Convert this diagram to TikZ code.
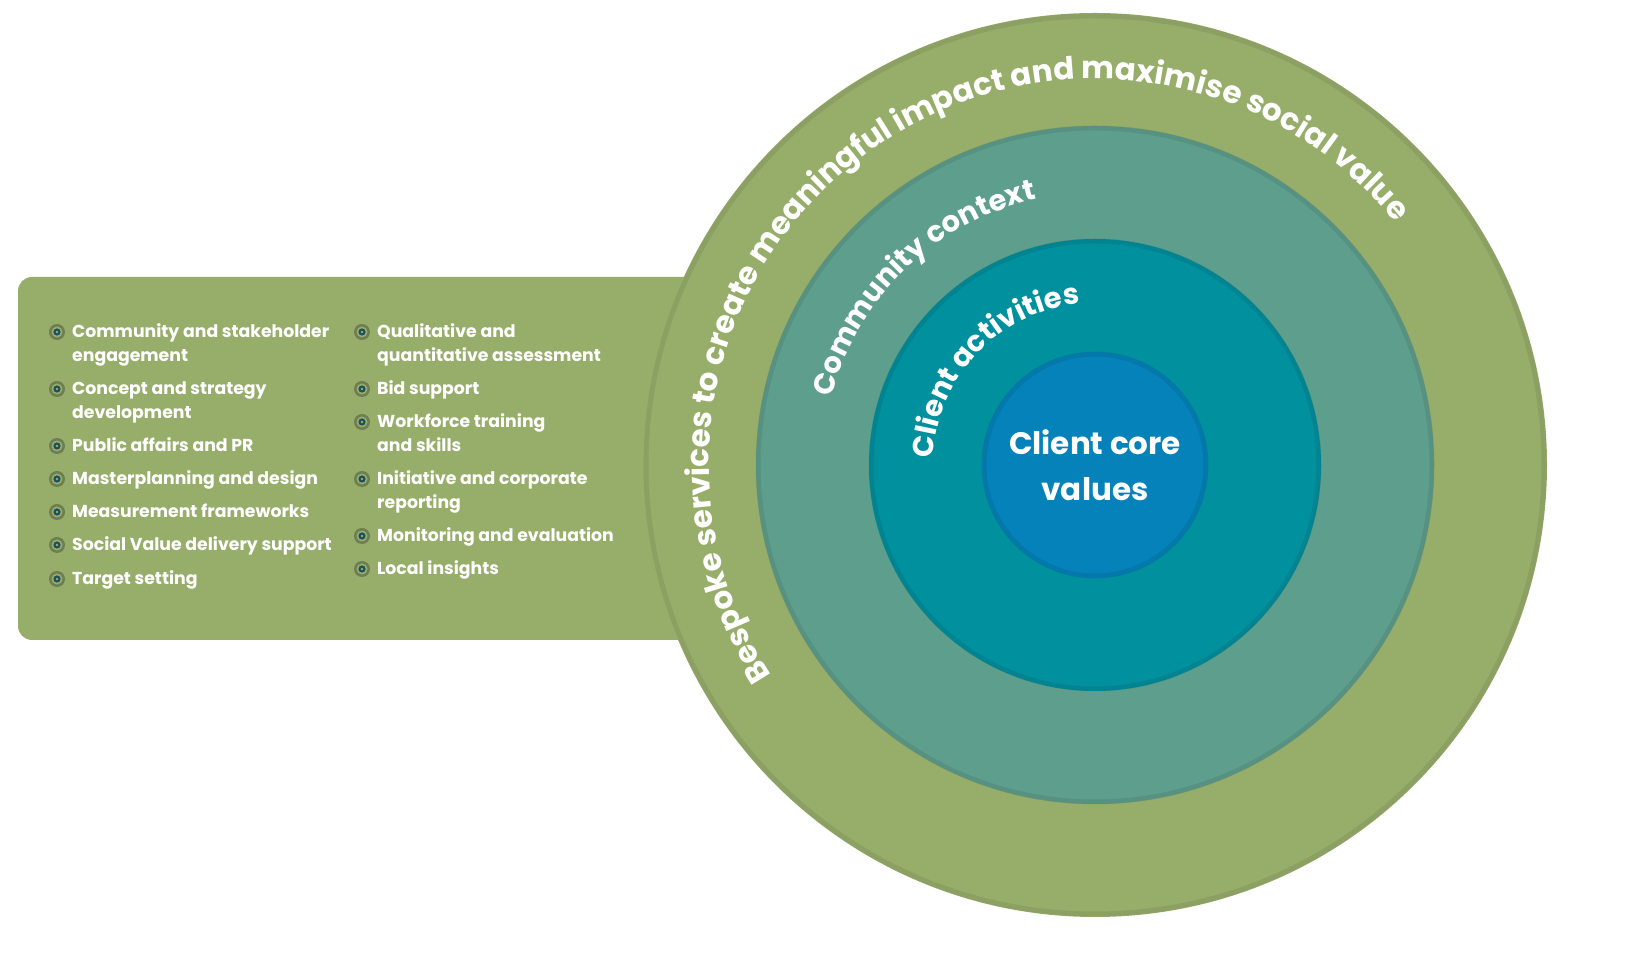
\documentclass[tikz,border=0pt]{standalone}
\usepackage{fontspec}
\setmainfont{Poppins}
\usetikzlibrary{decorations.text}
\definecolor{gOut}{HTML}{97AE6B}
\definecolor{gTeal}{HTML}{5E9E8C}
\definecolor{gCyan}{HTML}{00909E}
\definecolor{gBlue}{HTML}{0582BA}
\definecolor{bRing}{HTML}{6E7D52}
\definecolor{bDot}{HTML}{1E4F5E}
\tikzset{
  lst/.style={anchor=base west,inner sep=0pt,text=white,font=\fontsize{17.3}{20}\selectfont\bfseries},
  bul/.style={circle,fill=bRing,minimum size=16pt,inner sep=0pt,path picture={
     \fill[gOut] (path picture bounding box.center) circle (5.5pt);
     \fill[bDot] (path picture bounding box.center) circle (3.6pt);
     \fill[gOut] (path picture bounding box.center) circle (1.4pt);}},
  ring/.style={draw=black,draw opacity=0.08,line width=5pt},
  arct/.style 2 args={decorate,decoration={text along path,text align=center,
     text={|\color{white}\bfseries\fontsize{#1}{#1}\selectfont|#2}}}
}
\newcommand{\litem}[4]{%
  \node[bul] at (#1-15,#2) {};
  \node[lst] at (#1,#2-6) {#3};
  \if\relax\detokenize{#4}\relax\else\node[lst] at (#1,#2-30) {#4};\fi}
\begin{document}
\begin{tikzpicture}[x=1pt,y=1pt]
\useasboundingbox (0,0) rectangle (1633,960);
\coordinate (C) at (1095,495);
\fill[gOut,rounded corners=14pt] (18,320) rectangle (760,683);
\fill[gOut] (C) circle (452);
\draw[ring] (C) circle (449);
\fill[gTeal] (C) circle (339);
\draw[ring] (C) circle (337);
\fill[gCyan] (C) circle (226);
\draw[ring] (C) circle (224);
\fill[gBlue] (C) circle (113);
\draw[ring] (C) circle (111);
\node[text=white,align=center,font=\fontsize{31}{46}\selectfont\bfseries] (core) at (C) {Client core\\values};
\path[arct={31}{Bespoke services to create meaningful impact and maximise social value}]
  (C) ++(214:386) arc[start angle=214,end angle=38,radius=386];
\path[arct={29}{Community context}]
  (C) ++(176:272) arc[start angle=176,end angle=92,radius=272];
\path[arct={29}{Client activities}]
  (C) ++(188:162) arc[start angle=188,end angle=85,radius=162];
\litem{72}{628}{Community and stakeholder}{engagement}
\litem{72}{571}{Concept and strategy}{development}
\litem{72}{514}{Public affairs and PR}{}
\litem{72}{481}{Masterplanning and design}{}
\litem{72}{448}{Measurement frameworks}{}
\litem{72}{415}{Social Value delivery support}{}
\litem{72}{381}{Target setting}{}
\litem{377}{628}{Qualitative and}{quantitative assessment}
\litem{377}{571}{Bid support}{}
\litem{377}{538}{Workforce training}{and skills}
\litem{377}{481}{Initiative and corporate}{reporting}
\litem{377}{424}{Monitoring and evaluation}{}
\litem{377}{391}{Local insights}{}
\end{tikzpicture}
\end{document}
